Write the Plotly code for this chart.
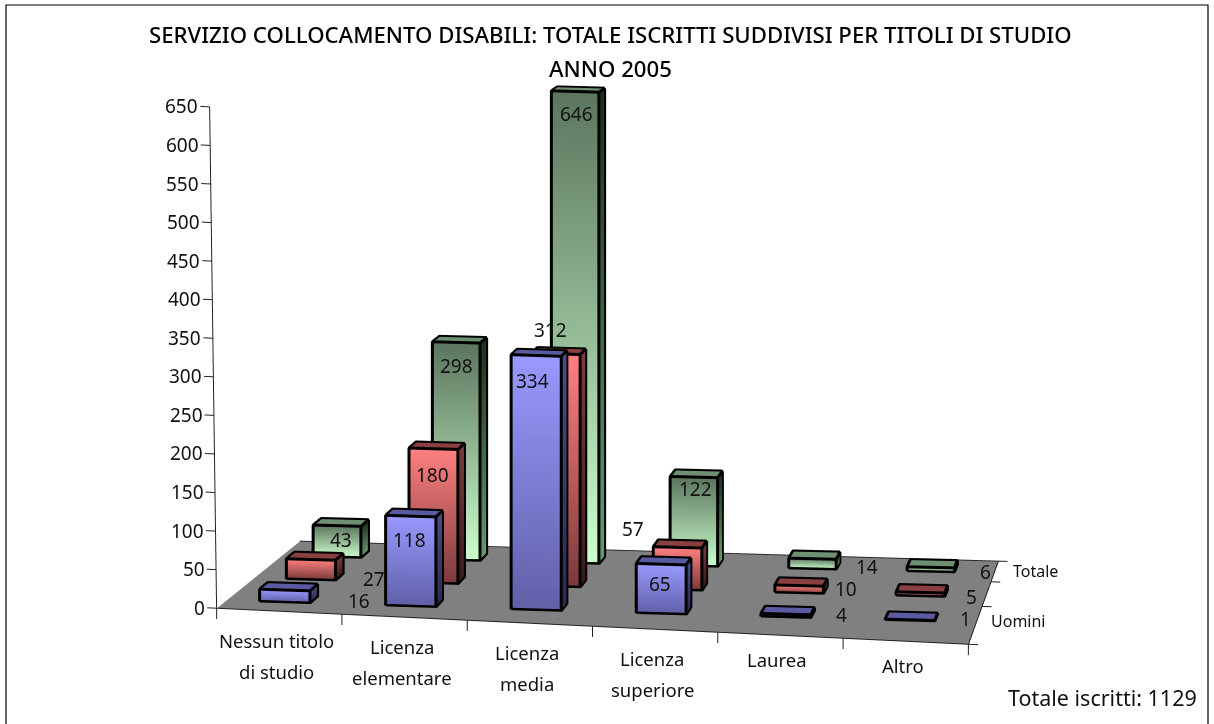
import math
import plotly.graph_objects as go

# ---------- data ----------
categories = ["Nessun titolo<br>di studio", "Licenza<br>elementare", "Licenza<br>media",
              "Licenza<br>superiore", "Laurea", "Altro"]
series_names = ["Uomini", "", "Totale"]
uomini = [16, 118, 334, 65, 4, 1]
donne = [27, 180, 312, 57, 10, 5]
totale = [43, 298, 646, 122, 14, 6]
value_ticks = list(range(0, 651, 50))

# ---------- style: label nudges (px) relative to the top of each bar ----------
label_nudges = [
    [(70, 11), (-6, 24), (-8, 25), (-6, 20), (51, 1), (51, -1)],
    [(59, 19), (-5, 26), (-10, -24), (-49, -18), (43, 3), (47, 4)],
    [(0, 14), (-4, 23), (-3, 22), (-3, 12), (50, 8), (50, 5)],
]
styles = [
    dict(front=("#9999FF", "#6060A8"), side=("#4C4C80", "#2A2A50"), top="#5A5AA0"),
    dict(front=("#FF8080", "#7A3A3A"), side=("#7A3C3C", "#3A1A1A"), top="#8A4040"),
    dict(front=("#5B755E", "#CCFFCC"), side=("#1F2E20", "#669A70"), top="#6F8F72"),
]
FONT = "Noto Sans"
TXT = "#111111"

# ---------- scene geometry ----------
EX, EY = (751.0, 36.0), (83.0, -67.0)      # apparent length of the floor edges
PX_Z = 0.77
ALPHA, BETA = -0.0916, 0.1896              # slight convergence of the floor
tan_t = math.sqrt((EX[1] / EX[0]) * (-EY[0] / EY[1]))
theta = math.atan(tan_t)
sin_p = (EX[1] / EX[0]) / tan_t
phi = math.asin(sin_p)
LEN_X = EX[0] / math.cos(theta)
LEN_Y = EY[0] / math.sin(theta)
LEN_Z = PX_Z / math.cos(phi)
SCALE = 361.6
DIST = 2.5
X_RANGE = [0.464 - 0.7, 0.464 + 0.7]
Y_RANGE = [0.5 - 0.8, 0.5 + 0.8]
Z_RANGE = [297.6 - 500, 297.6 + 500]
# outlines sit a few pixels toward the camera so that the faces do not cut them
LIFT = (3 * math.sin(theta) * math.cos(phi) / LEN_X,
        -3 * math.cos(theta) * math.cos(phi) / LEN_Y,
        3 * math.sin(phi) / LEN_Z)


def world(u, v, z=0.0):
    return (u + ALPHA * u * v, v + BETA * u * v, z * (1 - 0.065 * v))


def row_v(u, v):
    return v + 0.16 * u * (1 - 0.7 * v)


def bar_box(i, r, val):
    u0, u1 = (i + 0.3) / 6 - 0.006, (i + 0.7) / 6 - 0.006
    v0, v1 = (r + 0.35) / 3, (r + 0.65) / 3
    def c(u, v, z):
        return world(u, row_v(u, v), z)
    return dict(
        f0=c(u0, v0, 0), f1=c(u1, v0, 0), f2=c(u1, v0, val), f3=c(u0, v0, val),
        b1=c(u1, v1, 0), b2=c(u1, v1, val), b3=c(u0, v1, val),
    )


fig = go.Figure()

# floor
cu = [0, 1, 1, 0]
cv = [0, 0, 1, 1]
fl = [world(a, b) for a, b in zip(cu, cv)]
fig.add_trace(go.Mesh3d(
    x=[p[0] for p in fl], y=[p[1] for p in fl], z=[p[2] - 0.5 for p in fl],
    i=[0, 0], j=[1, 2], k=[2, 3], color="#808080", flatshading=True,
    lighting=dict(ambient=1, diffuse=0, specular=0, fresnel=0, roughness=1),
    hoverinfo="skip", showscale=False))

thin_x, thin_y, thin_z = [], [], []


def thin(*pts):
    for p in pts:
        thin_x.append(p[0]); thin_y.append(p[1]); thin_z.append(p[2])
    thin_x.append(None); thin_y.append(None); thin_z.append(None)


thin(fl[0], fl[1], fl[2], fl[3])
# value axis (leans very slightly, as in the picture)
lean = -0.0093
axis_top = world(lean, 0, 650)
thin(world(0, 0, 0), axis_top)
for t in value_ticks:
    uu = lean * t / 650
    thin(world(uu - 0.0125, 0, t), world(uu, 0, t))
for i in range(7):
    thin(world(i / 6, 0, 0), world(i / 6, 0, -14))
for r in range(4):
    v = r / 3 if r in (0, 3) else row_v(1, r / 3)
    thin(world(1, v, 0), world(1.013, v, 0))

fig.add_trace(go.Scatter3d(x=thin_x, y=thin_y, z=thin_z, mode="lines",
                           line=dict(color="#222222", width=2), hoverinfo="skip", showlegend=False))

# bars
for r, (vals, st) in enumerate(zip([uomini, donne, totale], styles)):
    X, Y, Z, C, I, J, K = [], [], [], [], [], [], []
    lx, ly, lz = [], [], []

    def quad(pts, cols):
        n = len(X)
        for p, col in zip(pts, cols):
            X.append(p[0]); Y.append(p[1]); Z.append(p[2]); C.append(col)
        I.extend([n, n]); J.extend([n + 1, n + 2]); K.extend([n + 2, n + 3])

    def line(*pts):
        for p in pts:
            lx.append(p[0] + LIFT[0]); ly.append(p[1] + LIFT[1]); lz.append(p[2] + LIFT[2])
        lx.append(None); ly.append(None); lz.append(None)

    for i, val in enumerate(vals):
        b = bar_box(i, r, val)
        ft, fb = st["front"]
        sd_t, sd_b = st["side"]
        quad([b["f0"], b["f1"], b["f2"], b["f3"]], [fb, fb, ft, ft])
        quad([b["f1"], b["b1"], b["b2"], b["f2"]], [sd_b, sd_b, sd_t, sd_t])
        quad([b["f3"], b["f2"], b["b2"], b["b3"]], [st["top"]] * 4)
        line(b["f0"], b["f1"], b["f2"], b["f3"], b["f0"])
        line(b["f3"], b["b3"], b["b2"], b["f2"])
        line(b["b2"], b["b1"], b["f1"])
    fig.add_trace(go.Mesh3d(
        x=X, y=Y, z=Z, i=I, j=J, k=K, vertexcolor=C, flatshading=True,
        lighting=dict(ambient=1, diffuse=0, specular=0, fresnel=0, roughness=1),
        hoverinfo="skip", showscale=False))
    fig.add_trace(go.Scatter3d(x=lx, y=ly, z=lz, mode="lines",
                               line=dict(color="#000000", width=6), hoverinfo="skip", showlegend=False))

# ---------- text placed in the scene ----------
ann = []


def label(p, text, size=19, xshift=0, yshift=0, xanchor="center"):
    ann.append(dict(x=p[0], y=p[1], z=p[2], text=text, showarrow=False, xanchor=xanchor, yanchor="middle",
                    xshift=xshift, yshift=yshift, font=dict(family=FONT, size=size, color=TXT)))


for t in value_ticks:
    uu = lean * t / 650
    label(world(uu - 0.0125, 0, t), str(t), xshift=0, xanchor="right")
for r, vals in enumerate([uomini, donne, totale]):
    for i, val in enumerate(vals):
        u = (i + 0.5) / 6
        p = world(u, row_v(u, (r + 0.35) / 3), val)
        dx, dy = label_nudges[r][i]
        label(p, str(val), xshift=dx, yshift=-dy)
for i, c in enumerate(categories):
    u = (i + 0.5) / 6
    parts = c.split("<br>")
    if len(parts) == 2:
        label(world(u, 0, -38), parts[0], size=18.5, xshift=-3)
        label(world(u, 0, -78), parts[1], size=18.5, xshift=-3)
    else:
        label(world(u, 0, -32), parts[0], size=18.5, xshift=-3)
for r, name in enumerate(series_names):
    if name:
        v = row_v(1, (r + 0.5) / 3)
        label(world(1.0, v, 0), name, size=16, xshift=40, yshift=-2)

paper_text = dict(xref="paper", yref="paper", showarrow=False, xanchor="center", yanchor="middle")
fig.update_layout(
    width=1214, height=724, margin=dict(l=0, r=0, t=0, b=0),
    paper_bgcolor="white", showlegend=False,
    scene=dict(
        domain=dict(x=[0, 1], y=[0, 1]),
        xaxis=dict(visible=False, range=X_RANGE),
        yaxis=dict(visible=False, range=Y_RANGE),
        zaxis=dict(visible=False, range=Z_RANGE),
        aspectmode="manual",
        aspectratio=dict(x=(X_RANGE[1] - X_RANGE[0]) * LEN_X / SCALE,
                         y=(Y_RANGE[1] - Y_RANGE[0]) * LEN_Y / SCALE,
                         z=(Z_RANGE[1] - Z_RANGE[0]) * LEN_Z / SCALE),
        camera=dict(projection=dict(type="orthographic"), up=dict(x=0, y=0, z=1), center=dict(x=0, y=0, z=0),
                    eye=dict(x=DIST * math.sin(theta) * math.cos(phi),
                             y=-DIST * math.cos(theta) * math.cos(phi),
                             z=DIST * math.sin(phi))),
        annotations=ann,
    ),
    annotations=[
        dict(x=610 / 1214, y=1 - 34 / 724,
             text="SERVIZIO COLLOCAMENTO DISABILI: TOTALE ISCRITTI SUDDIVISI PER TITOLI DI STUDIO",
             font=dict(family=FONT, size=22.2, color="#000000", weight=500), **paper_text),
        dict(x=610 / 1214, y=1 - 69 / 724, text="ANNO 2005",
             font=dict(family=FONT, size=22.2, color="#000000", weight=500), **paper_text),
        dict(x=1102 / 1214, y=1 - 697 / 724, text="Totale iscritti: 1129",
             font=dict(family=FONT, size=21.5, color=TXT), **paper_text),
    ],
    shapes=[dict(type="rect", xref="paper", yref="paper", x0=6 / 1214, x1=1208 / 1214, y0=-0.01, y1=1 - 5 / 724,
                 line=dict(color="#000000", width=1.2), fillcolor="rgba(0,0,0,0)")],
)
fig.write_html("out.html", config={"displayModeBar": False},
               post_script="document.body.style.margin='0';document.body.style.overflow='hidden';")
